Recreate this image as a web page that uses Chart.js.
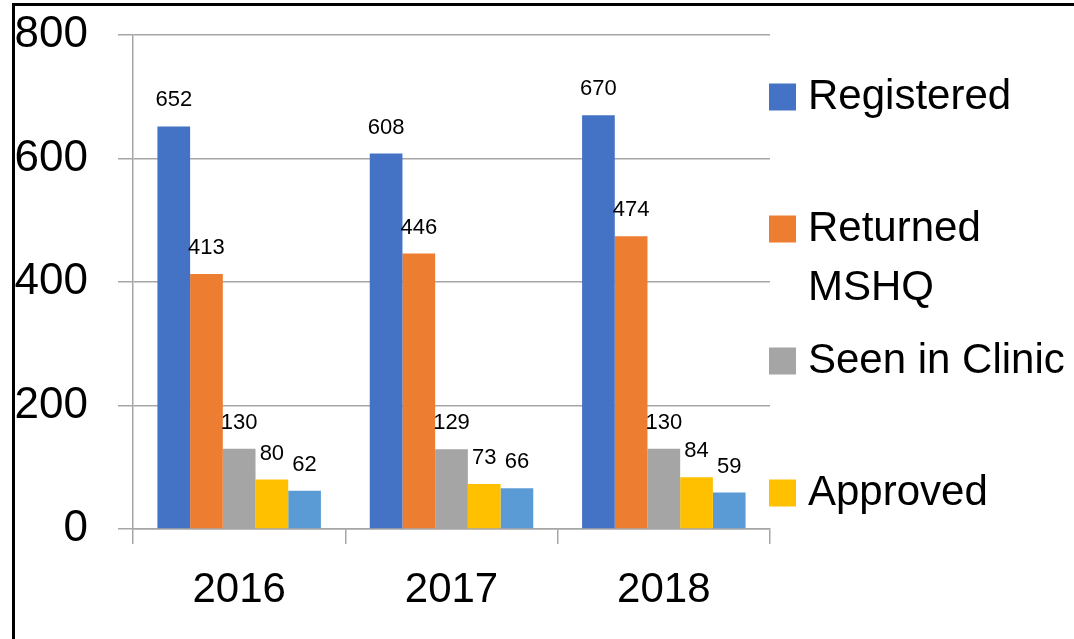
<!DOCTYPE html>
<html>
<head>
<meta charset="UTF-8">
<title>MSHQ chart</title>
<script src="https://cdn.jsdelivr.net/npm/chart.js"></script>
<style>
  html, body { margin: 0; padding: 0; background: #fff; }
  #wrap { position: relative; width: 1074px; height: 639px; overflow: hidden; }
  #frame { position: absolute; left: 12px; top: 3px; right: -10px; bottom: -10px;
           border-top: 3px solid #000; border-left: 3px solid #000; pointer-events: none; }
</style>
</head>
<body>
<div id="wrap">
  <canvas id="chart" width="1074" height="639"></canvas>
  <div id="frame"></div>
</div>

<script>
const years = ["2016", "2017", "2018"];
const registered = [652, 608, 670];
const returnedMshq = [413, 446, 474];
const seenInClinic = [130, 129, 130];
const approved = [80, 73, 84];
const series5 = [62, 66, 59];

const FONT = "'Liberation Sans', Arial, sans-serif";

// value labels above bars
const valueLabels = {
  id: 'valueLabels',
  afterDatasetsDraw(chart) {
    const ctx = chart.ctx;
    ctx.save();
    ctx.font = "22px " + FONT;
    ctx.fillStyle = "#000";
    ctx.textAlign = "center";
    ctx.textBaseline = "middle";
    chart.data.datasets.forEach((ds, i) => {
      chart.getDatasetMeta(i).data.forEach((bar, j) => {
        ctx.fillText(String(ds.data[j]), bar.x, bar.y - 26);
      });
    });
    ctx.restore();
  }
};

// legend on the right, first four series (the rest is cut off)
const sideLegend = {
  id: 'sideLegend',
  afterDraw(chart) {
    const ctx = chart.ctx;
    const area = chart.chartArea;
    ctx.save();
    ctx.font = "42px " + FONT;
    ctx.textBaseline = "middle";
    ctx.textAlign = "left";
    const items = [
      { text: ["Registered"], ds: 0 },
      { text: ["Returned", "MSHQ"], ds: 1 },
      { text: ["Seen in Clinic"], ds: 2 },
      { text: ["Approved"], ds: 3 }
    ];
    items.forEach((it, k) => {
      const cy = area.top + 62 + k * 132;
      ctx.fillStyle = chart.data.datasets[it.ds].backgroundColor;
      ctx.fillRect(area.right - 1, cy - 13.5, 27, 27);
      ctx.fillStyle = "#000";
      it.text.forEach((line, n) => {
        ctx.fillText(line, area.right + 38, cy + n * 59);
      });
    });
    ctx.restore();
  }
};

new Chart(document.getElementById('chart'), {
  type: 'bar',
  data: {
    labels: years,
    datasets: [
      { label: 'Registered', data: registered, backgroundColor: '#4472C4' },
      { label: 'Returned MSHQ', data: returnedMshq, backgroundColor: '#ED7D31' },
      { label: 'Seen in Clinic', data: seenInClinic, backgroundColor: '#A5A5A5' },
      { label: 'Approved', data: approved, backgroundColor: '#FFC000' },
      { label: 'Series5', data: series5, backgroundColor: '#5B9BD5' }
    ]
  },
  options: {
    responsive: false,
    animation: false,
    categoryPercentage: 0.77,
    barPercentage: 1,
    layout: { padding: { left: 15, top: 35, right: 304, bottom: 0 } },
    plugins: {
      legend: { display: false },
      tooltip: { enabled: false }
    },
    scales: {
      x: {
        offset: true,
        grid: { offset: true, drawOnChartArea: false, drawTicks: true, tickLength: 15, color: '#A6A6A6', lineWidth: 1.5 },
        border: { color: '#A6A6A6', width: 1.5 },
        ticks: { color: '#000', font: { family: FONT, size: 42 }, padding: 21, maxRotation: 0 },
        afterFit(scale) { scale.height = 110; scale.paddingLeft = 0; scale.paddingRight = 0; }
      },
      y: {
        min: 0,
        max: 800,
        ticks: { stepSize: 200, color: '#000', crossAlign: 'near', padding: 30, font: { family: FONT, size: 44 } },
        grid: { color: '#A6A6A6', lineWidth: 1.5, tickLength: 15 },
        border: { color: '#A6A6A6', width: 1.5 },
        afterFit(scale) { scale.width = 118; scale.paddingTop = 0; scale.paddingBottom = 0; }
      }
    }
  },
  plugins: [valueLabels, sideLegend]
});
</script>
</body>
</html>
